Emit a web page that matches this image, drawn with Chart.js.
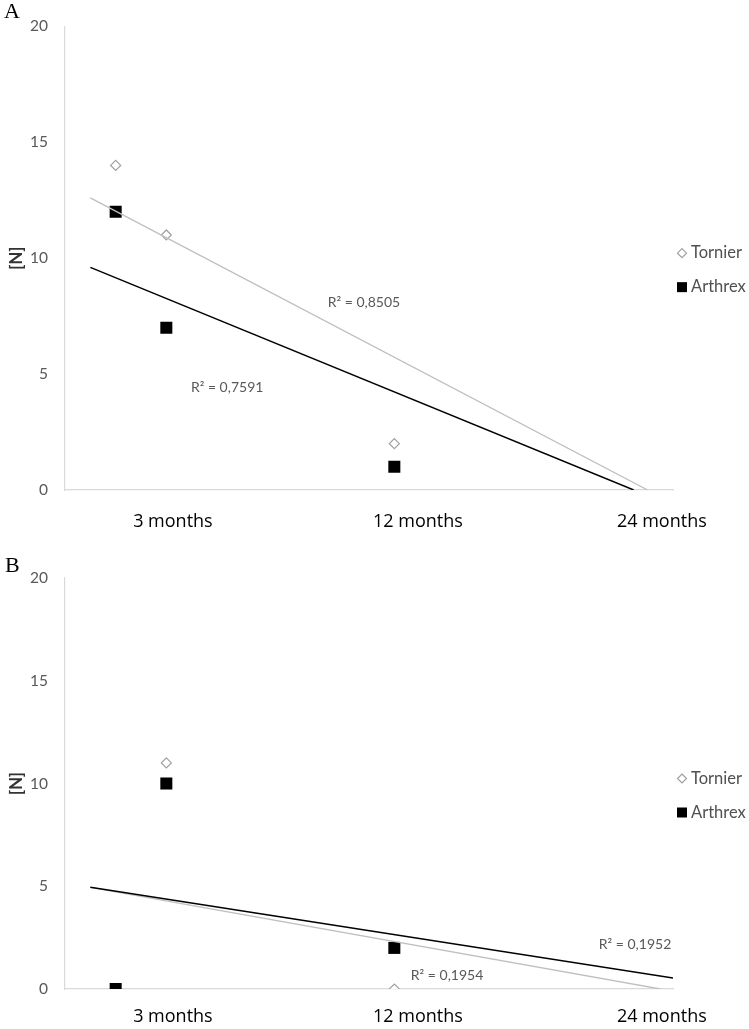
<!DOCTYPE html>
<html>
<head>
<meta charset="utf-8">
<script src="https://cdn.jsdelivr.net/npm/chart.js@4.4.0/dist/chart.umd.min.js"></script>
<style>
  body { margin: 0; background: #fff; width: 749px; height: 1029px; overflow: hidden; }
  .panel { position: absolute; left: 0; width: 749px; }
  .letter { position: absolute; font-family: "Liberation Serif", serif; font-size: 22px; color: #000; line-height: 1; }
</style>
</head>
<body>
<div class="panel" style="top:0;height:540px"><canvas id="chartA"></canvas></div>
<div class="panel" style="top:540px;height:489px"><canvas id="chartB"></canvas></div>
<div class="letter" style="left:4px;top:0px">A</div>
<div class="letter" style="left:5px;top:554px">B</div>
<script>
// x position of the points (months on the plot's own axis)
const months = [1, 3, 12]
const catLabels = ["3 months", "12 months", "24 months"]

const tornierA = [14, 11, 2]
const arthrexA = [12, 7, 1]
const tornierB = [0, 11, 0]
const arthrexB = [0, 10, 2]

// trend lines, [x, y] at both ends
const trendTornierA = [[0, 12.6], [22.0, 0]]
const trendArthrexA = [[0, 9.6], [21.45, 0]]
const trendTornierB = [[0, 4.95], [22.5, 0]]
const trendArthrexB = [[0, 4.95], [23, 0.54]]

const r2A = ["R² = 0,8505", "R² = 0,7591"]
const r2B = ["R² = 0,1954", "R² = 0,1952"]

const GRAY = '#bfbfbf'
const TXT = '#595959'

function pts(xs, ys) { return xs.map((x, i) => ({ x: x, y: ys[i] })) }
function ends(arr) { return arr.map(p => ({ x: p[0], y: p[1] })) }

// category label positions on the x axis
const catPos = [3.26, 12.93, 22.56]

const sideLegend = {
  id: 'sideLegend',
  afterDraw(chart) {
    const { ctx, chartArea } = chart
    const mid = (chartArea.top + chartArea.bottom) / 2 + 12
    const x = 682
    ctx.save()
    ctx.font = '16.5px Lato'
    ctx.fillStyle = '#505050'
    ctx.textBaseline = 'middle'
    // diamond
    ctx.beginPath()
    ctx.moveTo(x, mid - 17 - 4.5)
    ctx.lineTo(x + 4.5, mid - 17)
    ctx.lineTo(x, mid - 17 + 4.5)
    ctx.lineTo(x - 4.5, mid - 17)
    ctx.closePath()
    ctx.strokeStyle = '#a0a0a0'
    ctx.lineWidth = 1.2
    ctx.stroke()
    ctx.fillText('Tornier', 691, mid - 17)
    ctx.fillStyle = '#000'
    ctx.fillRect(x - 5, mid + 17 - 5, 10, 10)
    ctx.fillStyle = '#505050'
    ctx.fillText('Arthrex', 691, mid + 17)
    ctx.restore()
  }
}

const r2Labels = {
  id: 'r2Labels',
  afterDatasetsDraw(chart, args, opts) {
    const { ctx, scales } = chart
    ctx.save()
    ctx.font = '14px Lato'
    ctx.fillStyle = TXT
    ctx.textAlign = 'center'
    ctx.textBaseline = 'middle'
    opts.items.forEach(it => {
      ctx.fillText(it.text, scales.x.getPixelForValue(it.x), scales.y.getPixelForValue(it.y))
    })
    ctx.restore()
  }
}

function makeChart(id, tor, art, tTor, tArt, labels, xHeight, tickPad, padTop) {
  return new Chart(document.getElementById(id), {
    type: 'scatter',
    data: {
      datasets: [
        { type: 'line', data: ends(tArt), borderColor: '#000', borderWidth: 1.5, pointRadius: 0 },
        { type: 'line', data: ends(tTor), borderColor: GRAY, borderWidth: 1.3, pointRadius: 0 },
        { label: 'Arthrex', data: pts(months, art), pointStyle: 'rect', pointRadius: 8.5,
          backgroundColor: '#000', borderColor: '#000', borderWidth: 0 },
        { label: 'Tornier', data: pts(months, tor), pointStyle: 'rectRot', pointRadius: 5,
          backgroundColor: '#fff', borderColor: '#a0a0a0', borderWidth: 1.2 }
      ]
    },
    options: {
      responsive: true,
      maintainAspectRatio: false,
      animation: false,
      layout: { padding: { top: padTop, right: 76, left: 0, bottom: 0 } },
      plugins: {
        legend: { display: false },
        tooltip: { enabled: false },
        r2Labels: { items: labels }
      },
      scales: {
        x: {
          type: 'linear', min: -1, max: 23,
          grid: { display: false, drawTicks: false },
          border: { color: '#d9d9d9', width: 1.2 },
          afterBuildTicks: s => { s.ticks = catPos.map(v => ({ value: v })) },
          afterFit: s => { s.height = xHeight },
          ticks: {
            autoSkip: false, maxRotation: 0, padding: tickPad,
            color: '#000', font: { family: 'Open Sans', size: 18 },
            callback: (v, i) => catLabels[i]
          }
        },
        y: {
          min: 0, max: 20,
          grid: { display: false, drawTicks: false },
          border: { color: '#d9d9d9', width: 1.2 },
          afterFit: s => { s.width = 65 },
          ticks: { stepSize: 5, padding: 17, color: TXT, font: { family: 'Lato', size: 15.5 } },
          title: { display: true, text: '[N]', color: '#333', padding: { top: 7, bottom: 0 },
            font: { family: 'Lato', size: 16.5, weight: 'bold' } }
        }
      }
    },
    plugins: [sideLegend, r2Labels]
  })
}

makeChart('chartA', tornierA, arthrexA, trendTornierA, trendArthrexA,
  [{ text: r2A[0], x: 10.8, y: 8.1 }, { text: r2A[1], x: 5.4, y: 4.44 }], 50, 21, 26)
makeChart('chartB', tornierB, arthrexB, trendTornierB, trendArthrexB,
  [{ text: r2B[0], x: 14.08, y: 0.68 }, { text: r2B[1], x: 21.5, y: 2.19 }], 40, 17, 38)
</script>
</body>
</html>
